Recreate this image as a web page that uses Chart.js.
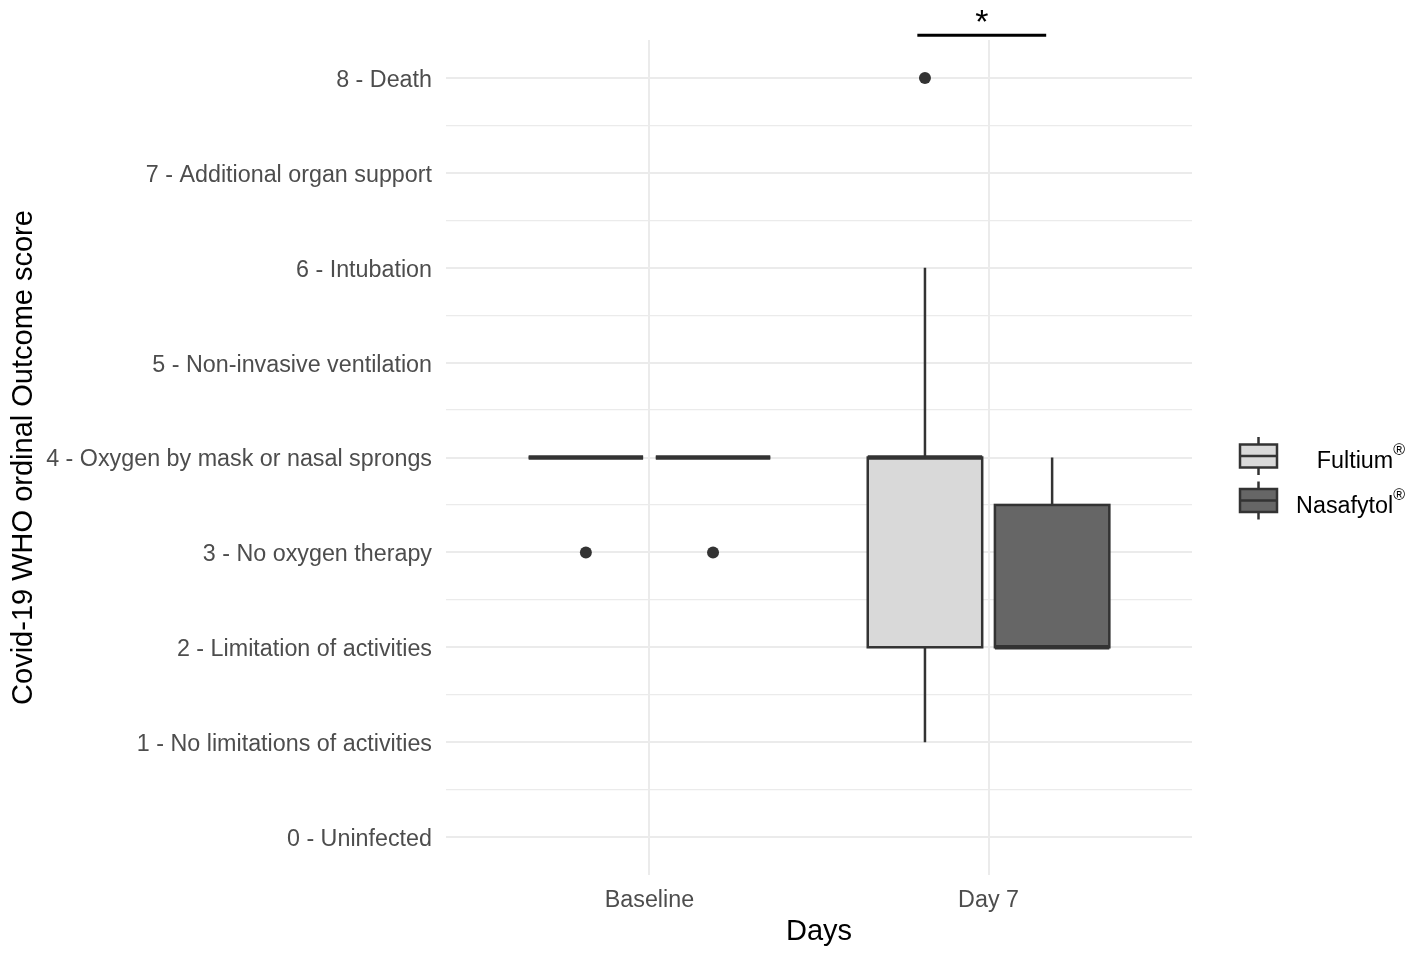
<!DOCTYPE html>
<html>
<head>
<meta charset="utf-8">
<script src="https://cdn.jsdelivr.net/npm/chart.js@4.4.1/dist/chart.umd.min.js"></script>
<style>
  html, body { margin: 0; padding: 0; background: #ffffff; }
  #wrap { width: 1418px; height: 956px; }
</style>
</head>
<body>
<div id="wrap"><canvas id="chart" width="1418" height="956"></canvas></div>
<script>
// Categories on the x axis
const days = ['Baseline', 'Day 7'];
// Treatment groups (legend)
const groups = ['Fultium®', 'Nasafytol®'];
const groupFills = ['#D9D9D9', '#666666'];

// WHO ordinal scale, tick labels 0..8
const scoreLabels = [
    '0 - Uninfected',
    '1 - No limitations of activities',
    '2 - Limitation of activities',
    '3 - No oxygen therapy',
    '4 - Oxygen by mask or nasal sprongs',
    '5 - Non-invasive ventilation',
    '6 - Intubation',
    '7 - Additional organ support',
    '8 - Death'
];

// box stats per day: [lower whisker, Q1, median, Q3, upper whisker]
const fultiumStats   = [[4, 4, 4, 4, 4], [1, 2, 4, 4, 6]];
const nasafytolStats = [[4, 4, 4, 4, 4], [2, 2, 2, 3.5, 4]];
// outliers per day
const fultiumOutliers   = [[3], [8]];
const nasafytolOutliers = [[3], []];

// significance bracket over Day 7
const sigFrom = 1.79, sigTo = 2.17, sigLevel = 8.45, sigLabel = '*';

const allStats = [fultiumStats, nasafytolStats];
const allOutliers = [fultiumOutliers, nasafytolOutliers];
const dodge = [-0.1875, 0.1875];   // group offset inside a day
const boxHalf = 0.16875;           // half box width (x units)
const outline = '#333333';
const FONT = "'Liberation Sans', Arial, sans-serif";

// draws whiskers, boxes and medians from the stats arrays
const boxPlugin = {
    id: 'boxes',
    beforeDatasetsDraw(chart) {
        const ctx = chart.ctx;
        const x = chart.scales.x, y = chart.scales.y;
        ctx.save();
        ctx.strokeStyle = outline;
        allStats.forEach(function (stats, g) {
            stats.forEach(function (s, i) {
                const lo = s[0], q1 = s[1], med = s[2], q3 = s[3], hi = s[4];
                const c = i + 1 + dodge[g];
                const xl = x.getPixelForValue(c - boxHalf);
                const xr = x.getPixelForValue(c + boxHalf);
                const xc = x.getPixelForValue(c);
                // whiskers
                ctx.lineWidth = 2.5;
                ctx.beginPath();
                if (hi > q3) { ctx.moveTo(xc, y.getPixelForValue(q3)); ctx.lineTo(xc, y.getPixelForValue(hi)); }
                if (lo < q1) { ctx.moveTo(xc, y.getPixelForValue(q1)); ctx.lineTo(xc, y.getPixelForValue(lo)); }
                ctx.stroke();
                // box
                const yt = y.getPixelForValue(q3), yb = y.getPixelForValue(q1);
                ctx.fillStyle = groupFills[g];
                ctx.fillRect(xl, yt, xr - xl, yb - yt);
                ctx.strokeRect(xl, yt, xr - xl, yb - yt);
                // median
                ctx.lineWidth = 4.5;
                ctx.beginPath();
                ctx.moveTo(xl, y.getPixelForValue(med));
                ctx.lineTo(xr, y.getPixelForValue(med));
                ctx.stroke();
            });
        });
        ctx.restore();
    }
};

// significance bar + legend (outside the panel)
const extrasPlugin = {
    id: 'extras',
    afterDraw(chart) {
        const ctx = chart.ctx;
        const x = chart.scales.x, y = chart.scales.y;
        ctx.save();
        // bracket
        const by = y.getPixelForValue(sigLevel);
        ctx.strokeStyle = '#000000';
        ctx.lineWidth = 3;
        ctx.beginPath();
        ctx.moveTo(x.getPixelForValue(sigFrom), by);
        ctx.lineTo(x.getPixelForValue(sigTo), by);
        ctx.stroke();
        ctx.fillStyle = '#000000';
        ctx.font = '34px ' + FONT;
        ctx.textAlign = 'center';
        ctx.textBaseline = 'alphabetic';
        ctx.fillText(sigLabel, x.getPixelForValue((sigFrom + sigTo) / 2), by - 2);

        // legend
        const keyLeft = chart.chartArea.right + 48;
        const textRight = 1405;
        groups.forEach(function (name, g) {
            const cy = 456 + g * 44.5;
            ctx.strokeStyle = outline;
            ctx.lineWidth = 2.5;
            ctx.beginPath();
            ctx.moveTo(keyLeft + 18.5, cy - 19);
            ctx.lineTo(keyLeft + 18.5, cy + 19);
            ctx.stroke();
            ctx.fillStyle = groupFills[g];
            ctx.fillRect(keyLeft, cy - 11.5, 37, 23);
            ctx.strokeRect(keyLeft, cy - 11.5, 37, 23);
            ctx.beginPath();
            ctx.moveTo(keyLeft, cy);
            ctx.lineTo(keyLeft + 37, cy);
            ctx.stroke();

            const base = name.slice(0, -1), mark = name.slice(-1);
            ctx.fillStyle = '#000000';
            ctx.textAlign = 'right';
            ctx.font = '16px ' + FONT;
            const mw = ctx.measureText(mark).width;
            ctx.fillText(mark, textRight, cy - 1);
            ctx.font = '23.3px ' + FONT;
            ctx.fillText(base, textRight - mw, cy + 12);
        });
        ctx.restore();
    }
};

// outliers as native scatter points
const datasets = groups.map(function (name, g) {
    const pts = [];
    allOutliers[g].forEach(function (vals, i) {
        vals.forEach(function (v) { pts.push({ x: i + 1 + dodge[g], y: v }); });
    });
    return {
        label: name,
        data: pts,
        pointRadius: 6,
        pointHoverRadius: 6,
        pointBackgroundColor: outline,
        pointBorderWidth: 0,
        showLine: false
    };
});

new Chart(document.getElementById('chart'), {
    type: 'scatter',
    data: { datasets: datasets },
    options: {
        responsive: false,
        animation: false,
        layout: { padding: { top: 40, right: 226, bottom: 0, left: 0 } },
        plugins: {
            legend: { display: false },
            tooltip: { enabled: false }
        },
        scales: {
            x: {
                type: 'linear',
                min: 0.4,
                max: 2.6,
                afterBuildTicks: function (s) {
                    s.ticks = days.map(function (d, i) { return { value: i + 1 }; });
                },
                afterFit: function (s) { s.height = 81; },
                ticks: {
                    autoSkip: false,
                    padding: 12,
                    color: '#4D4D4D',
                    font: { size: 23.3, family: FONT },
                    callback: function (v) { return days[Math.round(v) - 1]; }
                },
                grid: { color: '#EBEBEB', lineWidth: 2, drawTicks: false },
                border: { display: false },
                title: {
                    display: true,
                    text: 'Days',
                    color: '#000000',
                    font: { size: 29, family: FONT },
                    padding: { top: 0, bottom: 7 }
                }
            },
            y: {
                type: 'linear',
                min: -0.4,
                max: 8.4,
                afterBuildTicks: function (s) {
                    const t = [];
                    for (let v = 0; v <= 8; v += 0.5) t.push({ value: v });
                    s.ticks = t;
                },
                afterFit: function (s) { s.width = 446; },
                ticks: {
                    autoSkip: false,
                    padding: 14,
                    labelOffset: 2.5,
                    color: '#4D4D4D',
                    font: { size: 23.3, family: FONT },
                    callback: function (v) { return Number.isInteger(v) ? scoreLabels[v] : ''; }
                },
                grid: {
                    color: '#EBEBEB',
                    drawTicks: false,
                    lineWidth: function (c) { return Number.isInteger(c.tick.value) ? 2 : 1.2; }
                },
                border: { display: false },
                title: {
                    display: true,
                    text: 'Covid-19 WHO ordinal Outcome score',
                    color: '#000000',
                    font: { size: 29, family: FONT },
                    padding: { top: 7, bottom: 0 }
                }
            }
        }
    },
    plugins: [boxPlugin, extrasPlugin]
});
</script>
</body>
</html>
